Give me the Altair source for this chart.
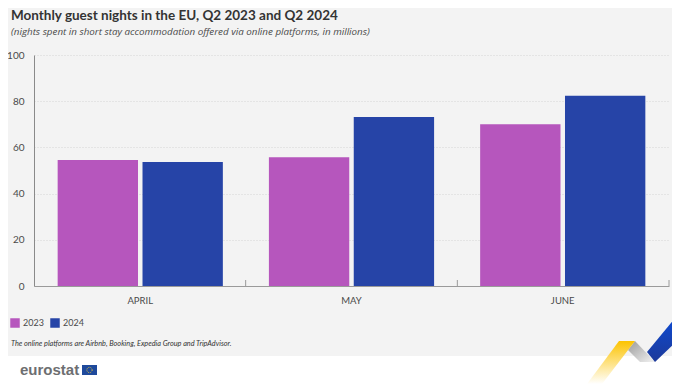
import altair as alt
import pandas as pd

months = ["APRIL", "MAY", "JUNE"]
v2023 = [54.5, 55.7, 70.0]
v2024 = [53.7, 73.2, 82.4]
y_ticks = [0, 20, 40, 60, 80, 100]
title = "Monthly guest nights in the EU, Q2 2023 and Q2 2024"
subtitle = "(nights spent in short stay accommodation offered via online platforms, in millions)"
note = "The online platforms are Airbnb, Booking, Expedia Group and TripAdvisor."
NARROW = "Lato"
BG = "#f3f3f3"
TXT = "#4a4a4a"

rows = []
for m, a, b in zip(months, v2023, v2024):
    rows.append({"month": m, "year": "2023", "v": a})
    rows.append({"month": m, "year": "2024", "v": b})
df = pd.DataFrame(rows)

W, H = 635, 231
L, T = 26, 47
TOTAL_W, TOTAL_H = 664, 376

bars = alt.Chart(df).mark_bar().encode(
    x=alt.X("month:N", sort=months, title=None,
            scale=alt.Scale(paddingInner=0.218, paddingOuter=0.112),
            axis=alt.Axis(labelAngle=0, ticks=False, domain=True, domainColor="#9a9a9a",
                          labelFont=NARROW, labelFontSize=9.5, labelColor=TXT, labelPadding=9, grid=False)),
    xOffset=alt.XOffset("year:N", scale=alt.Scale(paddingInner=0.053)),
    y=alt.Y("v:Q", title=None, scale=alt.Scale(domain=[0, 100], nice=False),
            axis=alt.Axis(values=y_ticks, ticks=False, domain=True, domainColor="#8a8a8a",
                          grid=True, gridColor="#d4d4d4", gridDash=[1, 2], gridWidth=1,
                          labelFont=NARROW, labelFontSize=10, labelColor=TXT, labelPadding=10)),
    color=alt.Color("year:N", title=None,
                    scale=alt.Scale(domain=["2023", "2024"], range=["#b656bd", "#2644a7"]),
                    legend=alt.Legend(orient="none", legendX=-24, legendY=263, direction="horizontal",
                                      symbolType="square", symbolSize=90, symbolStrokeWidth=0,
                                      labelFont=NARROW, labelFontSize=9, labelColor=TXT,
                                      columnPadding=6, labelOffset=3)),
)

# decoration, positioned in pixels relative to the plot origin
def box(x, x2, y, y2, color):
    return alt.Chart(pd.DataFrame({"a": [0]})).mark_rect(color=color).encode(
        x=alt.value(x), x2=alt.value(x2), y=alt.value(y), y2=alt.value(y2))

footer = box(-L, TOTAL_W - L, 301, TOTAL_H - T, "#ffffff")

ticks = alt.Chart(pd.DataFrame({"px": [W / 3, 2 * W / 3, W]})).mark_rule(color="#9a9a9a").encode(
    x=alt.X("px:Q", scale=None), y=alt.value(H - 6), y2=alt.value(H))

def text(s, x, y, **kw):
    return alt.Chart(pd.DataFrame({"t": [s]})).mark_text(align="left", baseline="middle", **kw).encode(
        x=alt.value(x), y=alt.value(y), text="t:N")

t1 = text(title, -23, -39.5, font=NARROW, fontSize=13.5, fontWeight="bold", color="#333333")
t2 = text(subtitle, -23, -23, font="Open Sans", fontSize=9.8, fontStyle="italic", color=TXT)
t3 = text(note, -23, 289, font=NARROW, fontSize=7.3, fontStyle="italic", color="#333333")
logo = text("eurostat", -14, 315, font="Liberation Sans", fontSize=15, fontWeight="bold", color="#6d6e71")

def shape(path, fill):
    return alt.Chart(pd.DataFrame({"a": [0]})).mark_point(
        shape=path, size=4, filled=True, fill=fill, opacity=1, strokeWidth=0
    ).encode(x=alt.value(0), y=alt.value(0))

def poly(pts):
    return "M" + "L".join(f"{x - 34},{y - 55}" for x, y in pts) + "Z"

def grad(c1, c2, x2=0, y2=1, x1=0, y1=0):
    return alt.LinearGradient(gradient="linear", x1=x1, y1=y1, x2=x2, y2=y2,
                              stops=[alt.GradientStop(offset=0, color=c1),
                                     alt.GradientStop(offset=1, color=c2)])

yellow = shape(poly([(619, 341), (635, 341), (602, 384), (587, 384)]), grad("#fcc300", "#ffffff"))
gray = shape(poly([(635, 341), (655, 362), (640, 362), (628, 350)]), grad("#9a9a9a", "#f3f3f3", x2=1, y2=1))
blue = shape(poly([(675, 318), (680, 318), (680, 338), (655, 362), (647, 352)]), grad("#0e4ad0", "#1d3a9a", x2=0, y2=1))

flag = box(48, 63, 310, 320, "#1f4a9c")
stars = alt.Chart(pd.DataFrame({"a": [0]})).mark_point(
    shape="circle", size=28, filled=False, stroke="#e9c93a", strokeWidth=1, strokeDash=[1, 1.2], opacity=1
).encode(x=alt.value(55.5), y=alt.value(315))

chart = alt.layer(footer, bars, ticks, t1, t2, t3, logo, gray, yellow, blue, flag, stars).properties(
    width=W, height=H, background=BG,
    autosize=alt.AutoSizeParams(type="none"),
    padding={"left": L, "top": T, "right": TOTAL_W - L - W, "bottom": TOTAL_H - T - H},
).configure_view(stroke=None)

chart.save("out.html", embed_options={"renderer": "svg", "actions": False})
